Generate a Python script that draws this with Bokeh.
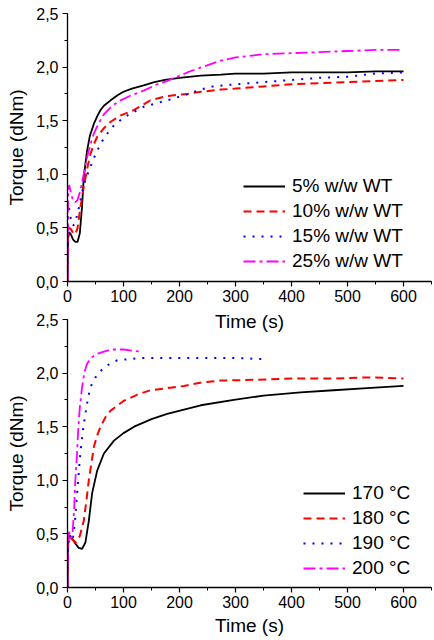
from bokeh.plotting import figure
from bokeh.models import (Range1d, SingleIntervalTicker, CustomJSTickFormatter,
                          Legend, LegendItem)
from bokeh.layouts import column
from bokeh.embed import file_html
from bokeh.resources import INLINE

FONT = "Liberation Sans"

# ---------------- data: top panel (WT content) ----------------
top_labels = ["5% w/w WT", "10% w/w WT", "15% w/w WT", "25% w/w WT"]

t_5 = [0, 1, 3, 6, 10, 14, 18, 22, 26, 29, 32, 35, 40, 47, 53, 59, 65, 77, 90,
       100, 115, 136, 155, 174, 200, 238, 274, 300, 350, 400, 450, 500, 550, 600]
v_5 = [0, 0.40, 0.46, 0.44, 0.39, 0.37, 0.37, 0.45, 0.70, 0.97, 1.10, 1.22, 1.36,
       1.47, 1.54, 1.60, 1.64, 1.69, 1.74, 1.77, 1.80, 1.83, 1.86, 1.88, 1.90,
       1.92, 1.93, 1.94, 1.94, 1.95, 1.95, 1.95, 1.96, 1.96]

t_10 = [0, 1, 3, 6, 10, 14, 18, 23, 29, 35, 41, 47, 53, 65, 77, 95, 119, 148,
        178, 214, 238, 274, 300, 350, 400, 450, 500, 550, 600]
v_10 = [0, 0.42, 0.50, 0.49, 0.45, 0.44, 0.50, 0.69, 0.88, 1.05, 1.19, 1.28,
        1.35, 1.43, 1.49, 1.55, 1.60, 1.69, 1.73, 1.75, 1.77, 1.79, 1.80, 1.82,
        1.84, 1.85, 1.86, 1.87, 1.88]

t_15 = [0, 1, 3, 6, 10, 14, 20, 26, 32, 41, 47, 53, 62, 71, 85, 107, 136, 178,
        210, 238, 260, 300, 350, 400, 450, 500, 550, 600]
v_15 = [0, 0.72, 0.68, 0.58, 0.52, 0.55, 0.68, 0.83, 0.95, 1.07, 1.15, 1.22,
        1.31, 1.38, 1.47, 1.55, 1.63, 1.69, 1.74, 1.79, 1.82, 1.84, 1.86, 1.88,
        1.90, 1.91, 1.94, 1.95]

t_25 = [0, 1, 3, 6, 10, 14, 18, 23, 29, 35, 41, 47, 55, 65, 80, 95, 115, 136,
        160, 178, 214, 240, 274, 300, 350, 400, 450, 500, 550, 600]
v_25 = [0, 0.80, 0.90, 0.83, 0.75, 0.74, 0.76, 0.85, 1.00, 1.16, 1.28, 1.38,
        1.47, 1.56, 1.64, 1.69, 1.74, 1.78, 1.84, 1.87, 1.95, 2.00, 2.06, 2.09,
        2.12, 2.13, 2.14, 2.15, 2.16, 2.16]

# ---------------- data: bottom panel (temperature) ----------------
bottom_labels = ["170 °C", "180 °C", "190 °C", "200 °C"]

t_170 = [0, 1, 3, 8, 14, 20, 26, 32, 38, 44, 53, 65, 83, 100, 119, 150, 178,
         238, 297, 350, 416, 475, 535, 600]
v_170 = [0, 0.42, 0.49, 0.46, 0.41, 0.37, 0.36, 0.42, 0.62, 0.88, 1.09, 1.25,
         1.37, 1.44, 1.50, 1.57, 1.62, 1.70, 1.75, 1.79, 1.82, 1.84, 1.86, 1.88]

t_180 = [0, 1, 3, 8, 15, 22, 29, 34, 38, 43, 47, 53, 59, 68, 77, 100, 125, 148,
         178, 208, 237, 274, 356, 400, 476, 540, 600]
v_180 = [0, 0.40, 0.47, 0.45, 0.42, 0.48, 0.62, 0.82, 1.00, 1.17, 1.31, 1.42,
         1.50, 1.59, 1.65, 1.74, 1.80, 1.84, 1.86, 1.88, 1.91, 1.93, 1.94, 1.95,
         1.95, 1.96, 1.95]

t_190 = [0, 1, 3, 7, 10, 13, 16, 19, 22, 26, 29, 32, 36, 41, 50, 59, 70, 89,
         110, 131, 180, 238, 300, 357]
v_190 = [0, 0.40, 0.46, 0.45, 0.47, 0.60, 0.80, 1.00, 1.20, 1.40, 1.52, 1.62,
         1.75, 1.87, 1.96, 2.02, 2.07, 2.12, 2.13, 2.14, 2.14, 2.14, 2.14, 2.13]

t_200 = [0, 1, 3, 6, 9, 12, 14, 17, 19, 22, 26, 30, 35, 44, 53, 65, 77, 100,
         115, 132]
v_200 = [0, 0.45, 0.52, 0.46, 0.50, 0.75, 1.00, 1.25, 1.46, 1.68, 1.87, 2.00,
         2.09, 2.15, 2.18, 2.20, 2.22, 2.22, 2.21, 2.20]

x_label = "Time (s)"
y_label = "Torque (dNm)"

styles = [
    dict(line_color="#000000", line_width=1.8, line_dash="solid"),
    dict(line_color="#ff0000", line_width=2.0, line_dash="8 5"),
    dict(line_color="#0000ff", line_width=2.0, line_dash="2 7"),
    dict(line_color="#ff00ff", line_width=1.8, line_dash="12 4 3 4"),
]


def make_fig(height, mbt, mbb, margin, title_standoff):
    p = figure(width=434, height=height, output_backend="svg",
               toolbar_location=None,
               x_range=Range1d(0, 650), y_range=Range1d(0, 2.5),
               min_border_left=67, min_border_right=3,
               min_border_top=mbt, min_border_bottom=mbb, margin=margin)
    p.outline_line_color = None
    p.grid.visible = False
    p.background_fill_color = None
    p.border_fill_color = None
    p.xaxis.ticker = SingleIntervalTicker(interval=100, num_minor_ticks=2)
    p.yaxis.ticker = SingleIntervalTicker(interval=0.5, num_minor_ticks=2)
    p.yaxis.formatter = CustomJSTickFormatter(
        code="return tick.toFixed(1).replace('.', ',');")
    for ax in (p.xaxis, p.yaxis):
        ax.axis_line_color = "#000000"
        ax.axis_line_width = 1.3
        ax.major_tick_line_color = "#000000"
        ax.minor_tick_line_color = "#000000"
        ax.major_tick_line_width = 1.2
        ax.minor_tick_line_width = 1.0
        ax.major_tick_in = 0
        ax.major_tick_out = 5
        ax.minor_tick_in = 0
        ax.minor_tick_out = 3
        ax.major_label_text_font = FONT
        ax.major_label_text_font_size = "16px"
        ax.major_label_text_color = "#000000"
        ax.axis_label_text_font = FONT
        ax.axis_label_text_font_size = "19px"
        ax.axis_label_text_font_style = "normal"
        ax.axis_label_text_color = "#000000"
    p.xaxis.major_label_standoff = 3
    p.yaxis.major_label_standoff = 4
    p.xaxis.axis_label_standoff = title_standoff
    p.yaxis.axis_label_standoff = 6
    p.xaxis.axis_label = x_label
    p.yaxis.axis_label = y_label
    return p


def add_series(p, series, labels, loc):
    items = []
    for (t, v), lab, st in zip(series, labels, styles):
        r = p.line(t, v, **st)
        items.append(LegendItem(label=lab, renderers=[r]))
    leg = Legend(items=items, location=loc, border_line_color=None,
                 background_fill_alpha=0, padding=0, margin=0, spacing=3,
                 glyph_width=42, glyph_height=20, label_height=20,
                 label_standoff=7, label_text_font=FONT,
                 label_text_font_size="19px", label_text_color="#000000")
    p.add_layout(leg)


# top panel: frame 13..281 ; canvas 0..338
p1 = make_fig(338, 13, 57, (0, 0, 0, 0), 6)
add_series(p1, [(t_5, v_5), (t_10, v_10), (t_15, v_15), (t_25, v_25)],
           top_labels, (176, 9))

# bottom panel: frame 319..587 ; canvas 311..640
p2 = make_fig(329, 8, 53, (-27, 0, 0, 0), 4)
add_series(p2, [(t_170, v_170), (t_180, v_180), (t_190, v_190), (t_200, v_200)],
           bottom_labels, (236, 8))

layout = column(p1, p2, spacing=0)

open("out.html", "w").write(file_html(layout, INLINE))
